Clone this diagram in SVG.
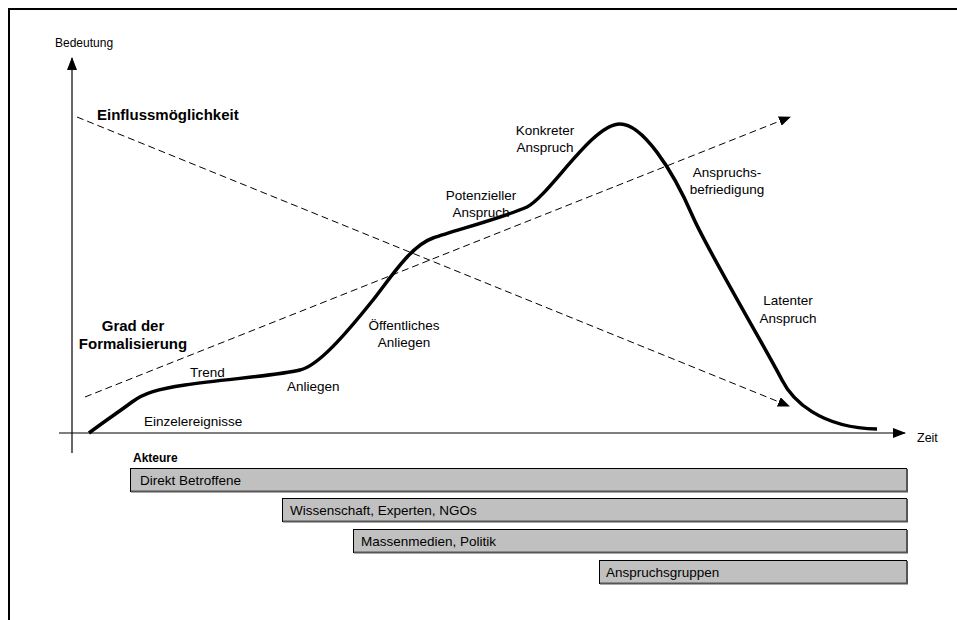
<svg xmlns="http://www.w3.org/2000/svg" width="957" height="620" viewBox="0 0 957 620">
<style>
text{font-family:"Liberation Sans",Arial,sans-serif;fill:#000}
.lbl{font-size:13.5px}
.c{text-anchor:middle}
.b{font-weight:bold}
.axis{stroke:#000;stroke-width:1.2;fill:none}
.dash{stroke:#000;stroke-width:1;stroke-dasharray:7 4;fill:none}
.bar{fill:#c0c0c0;stroke:#000;stroke-width:1}
.shade{stroke:#555;stroke-width:2;fill:none}
</style>
<defs>
<marker id="ah" markerWidth="12" markerHeight="10" refX="11" refY="5" orient="auto" markerUnits="userSpaceOnUse">
<path d="M0,0 L12,5 L0,10 Z" fill="#000"/>
</marker>
<marker id="ax" markerWidth="13" markerHeight="10" refX="12" refY="5" orient="auto" markerUnits="userSpaceOnUse">
<path d="M0,0 L13,5 L0,10 Z" fill="#000"/>
</marker>
</defs>
<rect width="957" height="620" fill="#fff"/>
<path d="M9,620 V9 H957" stroke="#000" stroke-width="2" fill="none"/>

<g id="connectors">
<line class="axis" x1="72" y1="453" x2="72" y2="58" marker-end="url(#ax)"/>
<line class="axis" x1="59" y1="433" x2="905" y2="433" marker-end="url(#ax)"/>
<line class="dash" x1="77" y1="117" x2="789" y2="406" marker-end="url(#ah)"/>
<line class="dash" x1="85" y1="397" x2="790" y2="117" marker-end="url(#ah)"/>
<path id="curve" d="M89,433 C105,421 120,411 132,402 C144,393 158,389 185,385 C225,379 275,376 300,370 C318,366 345,335 373,300 C389,280 410,246 433,238 C456,230 505,217 527,207 C550,195 592,124 620,124 C642,124 672,168 693,217 C708,251 765,347 782,380 C792,400 820,428 877,429" stroke="#000" stroke-width="3.5" fill="none"/>
</g>

<g id="axis-labels">
<text x="55" y="47" style="font-size:12px">Bedeutung</text>
<text x="917" y="442" style="font-size:12.5px">Zeit</text>
</g>

<g id="einfluss"><text x="97" y="120" class="b" style="font-size:15px">Einflussmöglichkeit</text></g>
<g id="grad"><text x="133" y="331" class="b c" style="font-size:15px">Grad der</text><text x="133" y="349" class="b c" style="font-size:15px">Formalisierung</text></g>

<g id="einzel"><text x="144" y="426" class="lbl">Einzelereignisse</text></g>
<g id="trend"><text x="190" y="377" class="lbl">Trend</text></g>
<g id="anliegen"><text x="287" y="391" class="lbl">Anliegen</text></g>
<g id="oeffentlich"><text x="404" y="330" class="lbl c">Öffentliches</text><text x="404" y="347" class="lbl c">Anliegen</text></g>
<g id="potenziell"><text x="481" y="200" class="lbl c">Potenzieller</text><text x="481" y="217" class="lbl c">Anspruch</text></g>
<g id="konkret"><text x="545" y="135" class="lbl c">Konkreter</text><text x="545" y="152" class="lbl c">Anspruch</text></g>
<g id="befriedigung"><text x="727" y="177" class="lbl c">Anspruchs-</text><text x="727" y="194" class="lbl c">befriedigung</text></g>
<g id="latent"><text x="788" y="305" class="lbl c">Latenter</text><text x="788" y="323" class="lbl c">Anspruch</text></g>

<g id="akteure"><text x="133" y="462" class="b" style="font-size:12px">Akteure</text></g>
<g id="bar-direkt"><rect class="bar" x="130.5" y="468.5" width="776" height="23"/><path class="shade" d="M131,491.5 H907 V469"/><text x="140" y="485" class="lbl">Direkt Betroffene</text></g>
<g id="bar-wissen"><rect class="bar" x="282.5" y="498.5" width="624" height="23"/><path class="shade" d="M283,521.5 H907 V499"/><text x="290" y="515" class="lbl">Wissenschaft, Experten, NGOs</text></g>
<g id="bar-medien"><rect class="bar" x="353.5" y="529.5" width="553" height="23"/><path class="shade" d="M354,552.5 H907 V530"/><text x="361" y="546" class="lbl">Massenmedien, Politik</text></g>
<g id="bar-gruppen"><rect class="bar" x="599.5" y="560.5" width="307" height="23"/><path class="shade" d="M600,583.5 H907 V561"/><text x="606" y="577" class="lbl">Anspruchsgruppen</text></g>
</svg>
